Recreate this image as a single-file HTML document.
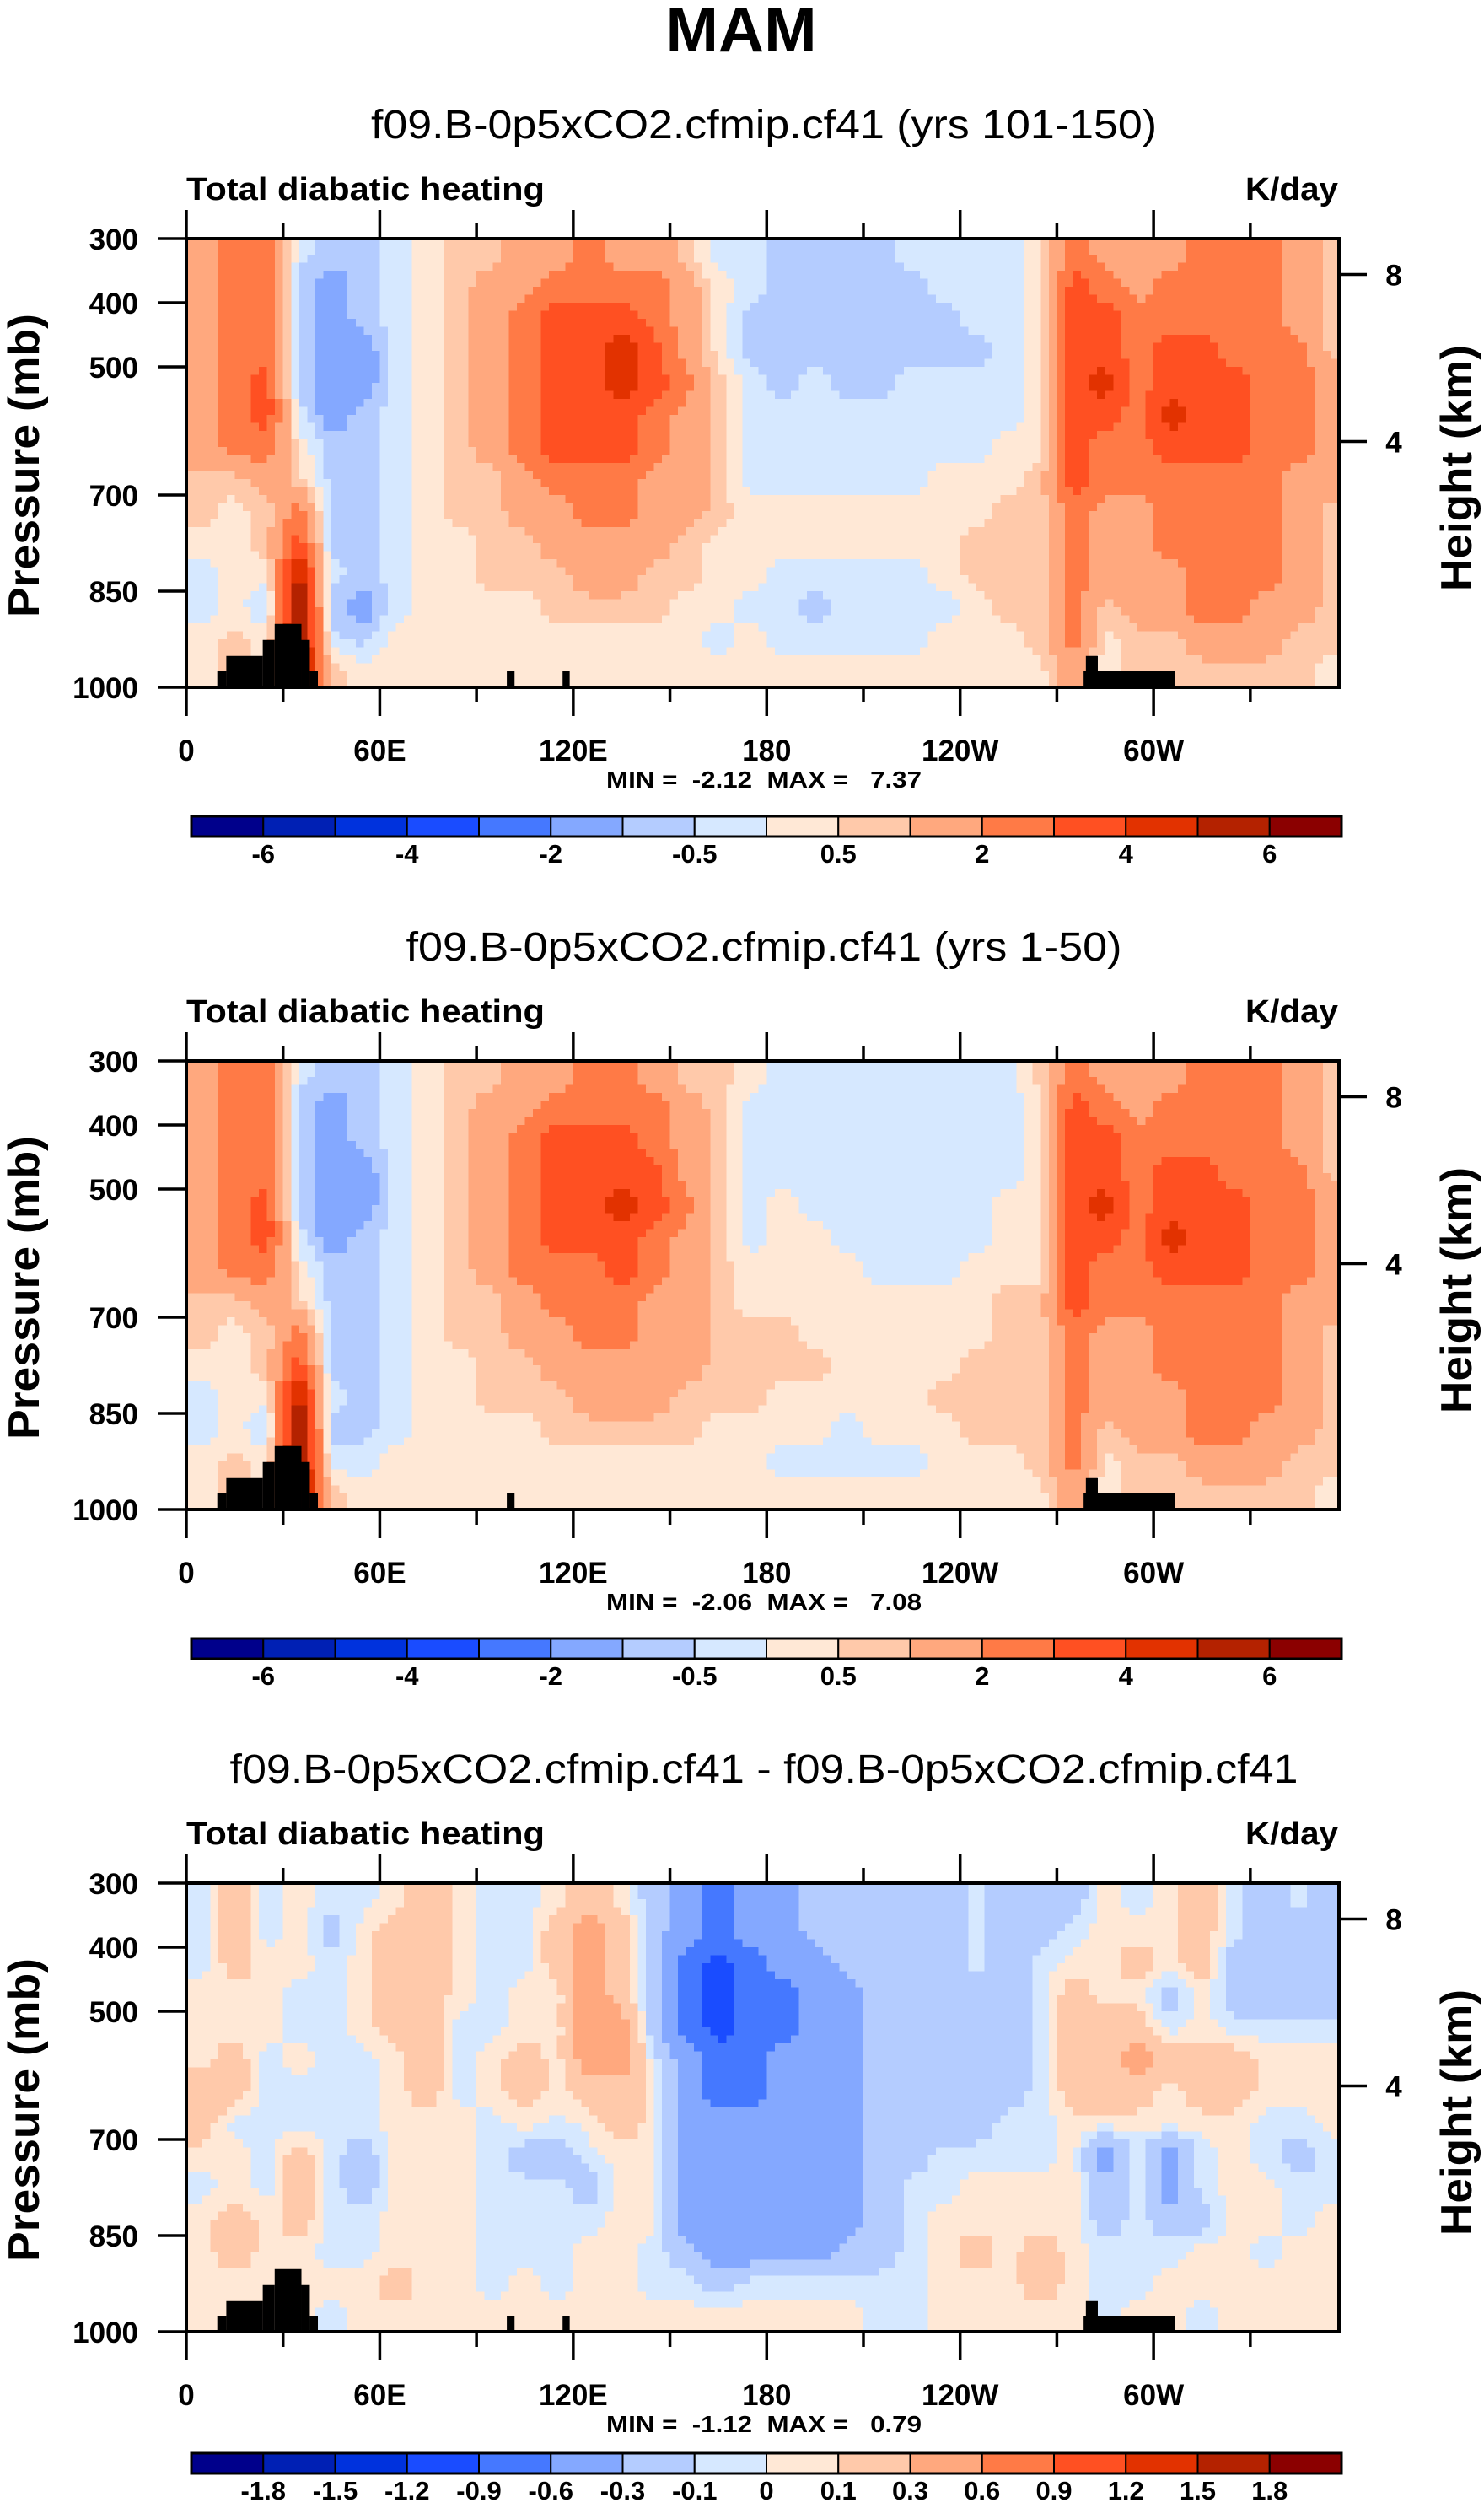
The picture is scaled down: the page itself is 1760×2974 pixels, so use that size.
<!DOCTYPE html>
<html><head><meta charset="utf-8">
<style>
html,body{margin:0;padding:0;background:#fff;}
svg{display:block;font-family:"Liberation Sans",Arial,sans-serif;}
.b{font-weight:bold;}
</style></head>
<body>
<svg id="fig" width="1760" height="2974" viewBox="0 0 1760 2974" xmlns="http://www.w3.org/2000/svg">
<rect x="0" y="0" width="1760" height="2974" fill="#fff"/>
<text x="879" y="61" text-anchor="middle" class="b" font-size="75">MAM</text>
</svg>
<script>
// ---------------- DATA ----------------
const lonCenters = [5,15,25,35,45,55,65,75,85,95,105,115,125,135,145,155,165,175,185,195,205,215,225,235,245,255,265,275,285,295,305,315,325,335,345,355];
const presCenters = [325,375,425,475,525,575,625,675,725,775,825,875,925,975];
const xTickLabels = ["0","60E","120E","180","120W","60W"];
const xTickLons = [0,60,120,180,240,300];
const pTicks = [300,400,500,700,850,1000];
const hTicks = [4,8];
const levelsAbs = [-6,-5,-4,-3,-2,-1,-0.5,0,0.5,1,2,3,4,5,6];
const levelsAbsLabels = ["","-6","","-4","","-2","","-0.5","","0.5","","2","","4","","6",""];
const levelsDiff = [-1.8,-1.5,-1.2,-0.9,-0.6,-0.3,-0.1,0,0.1,0.3,0.6,0.9,1.2,1.5,1.8];
const palette = ["#00008B","#0020B4","#0032DD","#1A4CFF","#4578FF","#84A8FF","#B4CCFF","#D6E8FF","#FFE8D6","#FFC9AA","#FFA87E","#FF7A46","#FF5022","#E23200","#B42200","#8B0000"];
const titles = ["f09.B-0p5xCO2.cfmip.cf41 (yrs 101-150)","f09.B-0p5xCO2.cfmip.cf41 (yrs 1-50)","f09.B-0p5xCO2.cfmip.cf41 - f09.B-0p5xCO2.cfmip.cf41"];
const titleWidths = [932, 849, 1267];
const minVals = [-2.12,-2.06,-1.12];
const maxVals = [7.37,7.08,0.79];
// terrain blocks: [lonStart, lonEnd, topPressure]
const terrain1 = [[9.6,12.4,975],[12.4,23.7,951],[23.7,27.4,926],[27.4,35.7,901],[35.7,38.3,926],[38.3,40.8,975],[99.4,101.8,975],[116.7,118.9,975],[278.3,306.7,975],[279,282.7,951]];
const terrain2 = [[9.6,12.4,975],[12.4,23.7,951],[23.7,27.4,926],[27.4,35.7,901],[35.7,38.3,926],[38.3,40.8,975],[99.4,101.8,975],[278.3,306.7,975],[279,282.7,951]];

const field1 = [
[1.5,1.5,1.5,1.5,1.5,1.5,1.5,0.7,0.7,0.3,-0.3,-0.3,0.3,0.3],
[2.5,2.5,2.5,2.5,2.5,2.5,2.5,0.7,0.3,0.3,0.3,0.3,0.7,0.7],
[2.5,2.5,2.5,2.5,3.5,3.5,2.5,1.5,0.7,0.7,0.3,-0.7,0.3,0.3],
[-0.3,-0.7,-0.7,-0.7,-0.7,-0.3,0.3,0.7,2.5,3.5,5.5,6.5,6.5,6.5],
[-0.7,-1.5,-1.5,-1.5,-1.5,-1.5,-0.7,-0.7,-0.7,-0.7,-0.3,-0.7,-0.3,0.7],
[-0.7,-0.7,-0.7,-1.5,-1.5,-0.7,-0.7,-0.7,-0.7,-0.7,-0.7,-1.5,-0.7,0.3],
[-0.3,-0.3,-0.3,-0.3,-0.3,-0.3,-0.3,-0.3,-0.3,-0.3,-0.3,-0.3,0.3,0.3],
[0.3,0.3,0.3,0.3,0.3,0.3,0.3,0.3,0.3,0.3,0.3,0.3,0.3,0.3],
[0.7,0.7,0.7,0.7,0.7,0.7,0.7,0.7,0.7,0.3,0.3,0.3,0.3,0.3],
[0.7,1.5,1.5,1.5,1.5,1.5,1.5,0.7,0.7,0.7,0.7,0.3,0.3,0.3],
[1.5,1.5,2.5,2.5,2.5,2.5,2.5,1.5,1.5,0.7,0.7,0.3,0.3,0.3],
[1.5,2.5,3.5,3.5,3.5,3.5,3.5,2.5,1.5,1.5,0.7,0.7,0.3,0.3],
[2.5,2.5,3.5,3.5,3.5,3.5,3.5,2.5,2.5,1.5,1.5,0.7,0.3,0.3],
[1.5,2.5,3.5,4.5,4.5,3.5,3.5,2.5,2.5,1.5,1.5,0.7,0.3,0.3],
[1.5,2.5,2.5,3.5,3.5,2.5,2.5,1.5,1.5,1.5,0.7,0.7,0.3,0.3],
[0.7,1.5,1.5,1.5,2.5,1.5,1.5,1.5,1.5,0.7,0.7,0.3,0.3,0.3],
[-0.3,0.3,0.3,0.3,0.7,0.7,0.7,0.7,0.7,0.3,0.3,0.3,-0.3,0.3],
[-0.3,-0.3,-0.7,-0.7,-0.3,-0.3,-0.3,-0.3,0.3,0.3,0.3,-0.3,0.3,0.3],
[-0.7,-0.7,-0.7,-0.7,-0.7,-0.3,-0.3,-0.3,0.3,0.3,-0.3,-0.3,-0.3,0.3],
[-0.7,-0.7,-0.7,-0.7,-0.3,-0.3,-0.3,-0.3,0.3,0.3,-0.3,-0.7,-0.3,0.3],
[-0.7,-0.7,-0.7,-0.7,-0.7,-0.3,-0.3,-0.3,0.3,0.3,-0.3,-0.3,-0.3,0.3],
[-0.7,-0.7,-0.7,-0.7,-0.7,-0.3,-0.3,-0.3,0.3,0.3,-0.3,-0.3,-0.3,0.3],
[-0.3,-0.7,-0.7,-0.7,-0.3,-0.3,-0.3,-0.3,0.3,0.3,-0.3,-0.3,-0.3,0.3],
[-0.3,-0.3,-0.7,-0.7,-0.3,-0.3,-0.3,0.3,0.3,0.3,0.3,-0.3,0.3,0.3],
[-0.3,-0.3,-0.3,-0.7,-0.3,-0.3,-0.3,0.3,0.3,0.7,0.7,0.3,0.3,0.3],
[-0.3,-0.3,-0.3,-0.3,-0.3,-0.3,0.3,0.3,0.7,0.7,0.7,0.7,0.3,0.3],
[0.3,0.3,0.3,0.3,0.3,0.3,0.3,0.7,0.7,0.7,0.7,0.7,0.7,0.3],
[2.5,3.5,3.5,3.5,3.5,3.5,3.5,3.5,2.5,2.5,2.5,2.5,2.5,1.5],
[1.5,2.5,3.5,3.5,4.5,3.5,2.5,2.5,1.5,1.5,1.5,0.7,0.3,0.3],
[1.5,1.5,2.5,2.5,2.5,2.5,2.5,2.5,1.5,1.5,1.5,1.5,0.7,0.7],
[1.5,2.5,2.5,3.5,3.5,4.5,3.5,2.5,2.5,2.5,1.5,1.5,0.7,0.7],
[2.5,2.5,2.5,3.5,3.5,3.5,3.5,2.5,2.5,2.5,2.5,2.5,1.5,0.7],
[2.5,2.5,2.5,2.5,3.5,3.5,3.5,2.5,2.5,2.5,2.5,2.5,1.5,0.7],
[2.5,2.5,2.5,2.5,2.5,2.5,2.5,2.5,2.5,2.5,2.5,1.5,1.5,0.7],
[1.5,1.5,1.5,2.5,2.5,2.5,2.5,1.5,1.5,1.5,1.5,1.5,0.7,0.7],
[0.7,0.7,0.7,0.7,1.5,1.5,1.5,1.5,0.7,0.7,0.7,0.7,0.7,0.3]
];
const field2 = [
[1.5,1.5,1.5,1.5,1.5,1.5,1.5,0.7,0.7,0.3,-0.3,-0.3,0.3,0.3],
[2.5,2.5,2.5,2.5,2.5,2.5,2.5,0.7,0.3,0.3,0.3,0.3,0.7,0.7],
[2.5,2.5,2.5,2.5,3.5,3.5,2.5,1.5,0.7,0.7,0.3,-0.7,0.3,0.3],
[-0.3,-0.7,-0.7,-0.7,-0.7,-0.3,0.3,0.7,2.5,3.5,5.5,6.5,6.5,6.5],
[-0.7,-1.5,-1.5,-1.5,-1.5,-1.5,-0.7,-0.7,-0.7,-0.7,-0.3,-0.7,-0.3,0.7],
[-0.7,-0.7,-0.7,-1.5,-1.5,-0.7,-0.7,-0.7,-0.7,-0.7,-0.7,-0.7,-0.3,0.3],
[-0.3,-0.3,-0.3,-0.3,-0.3,-0.3,-0.3,-0.3,-0.3,-0.3,-0.3,-0.3,0.3,0.3],
[0.3,0.3,0.3,0.3,0.3,0.3,0.3,0.3,0.3,0.3,0.3,0.3,0.3,0.3],
[0.7,0.7,0.7,0.7,0.7,0.7,0.7,0.7,0.7,0.3,0.3,0.3,0.3,0.3],
[0.7,1.5,1.5,1.5,1.5,1.5,1.5,0.7,0.7,0.7,0.7,0.3,0.3,0.3],
[1.5,1.5,2.5,2.5,2.5,2.5,2.5,1.5,1.5,0.7,0.7,0.3,0.3,0.3],
[1.5,2.5,3.5,3.5,3.5,3.5,2.5,2.5,1.5,1.5,0.7,0.7,0.3,0.3],
[2.5,2.5,3.5,3.5,3.5,3.5,2.5,2.5,2.5,1.5,1.5,0.7,0.3,0.3],
[2.5,2.5,3.5,3.5,4.5,3.5,3.5,2.5,2.5,1.5,1.5,0.7,0.3,0.3],
[1.5,2.5,2.5,3.5,3.5,2.5,2.5,1.5,1.5,1.5,1.5,0.7,0.3,0.3],
[0.7,1.5,1.5,1.5,2.5,1.5,1.5,1.5,1.5,1.5,0.7,0.7,0.3,0.3],
[0.7,0.7,0.7,0.7,0.7,0.7,0.7,0.7,0.7,0.7,0.7,0.3,0.3,0.3],
[0.3,-0.3,-0.3,-0.3,-0.3,-0.3,0.3,0.3,0.7,0.7,0.7,0.3,0.3,0.3],
[-0.3,-0.3,-0.3,-0.3,0.3,0.3,0.3,0.3,0.7,0.7,0.3,0.3,-0.3,0.3],
[-0.3,-0.3,-0.3,-0.3,-0.3,0.3,0.3,0.3,0.3,0.7,0.3,0.3,-0.3,0.3],
[-0.3,-0.3,-0.3,-0.3,-0.3,-0.3,0.3,0.3,0.3,0.3,0.3,-0.3,-0.3,0.3],
[-0.3,-0.3,-0.3,-0.3,-0.3,-0.3,-0.3,0.3,0.3,0.3,0.3,0.3,-0.3,0.3],
[-0.3,-0.3,-0.3,-0.3,-0.3,-0.3,-0.3,0.3,0.3,0.3,0.3,0.3,-0.3,0.3],
[-0.3,-0.3,-0.3,-0.3,-0.3,-0.3,-0.3,0.3,0.3,0.3,0.7,0.3,0.3,0.3],
[-0.3,-0.3,-0.3,-0.3,-0.3,-0.3,0.3,0.3,0.3,0.7,0.7,0.7,0.3,0.3],
[-0.3,-0.3,-0.3,-0.3,0.3,0.3,0.3,0.7,0.7,0.7,0.7,0.7,0.3,0.3],
[0.7,0.3,0.3,0.3,0.3,0.3,0.3,0.7,0.7,0.7,0.7,0.7,0.7,0.3],
[2.5,3.5,3.5,3.5,3.5,3.5,3.5,3.5,2.5,2.5,2.5,2.5,2.5,1.5],
[1.5,2.5,3.5,3.5,4.5,3.5,2.5,2.5,1.5,1.5,1.5,0.7,0.3,0.3],
[1.5,1.5,2.5,2.5,2.5,2.5,2.5,2.5,1.5,1.5,1.5,1.5,0.7,0.7],
[1.5,2.5,2.5,3.5,3.5,4.5,3.5,2.5,2.5,2.5,1.5,1.5,0.7,0.7],
[2.5,2.5,2.5,3.5,3.5,3.5,3.5,2.5,2.5,2.5,2.5,2.5,1.5,0.7],
[2.5,2.5,2.5,2.5,3.5,3.5,3.5,2.5,2.5,2.5,2.5,2.5,1.5,0.7],
[2.5,2.5,2.5,2.5,2.5,2.5,2.5,2.5,2.5,2.5,2.5,1.5,1.5,0.7],
[1.5,1.5,1.5,2.5,2.5,2.5,2.5,1.5,1.5,1.5,1.5,1.5,0.7,0.7],
[0.7,0.7,0.7,0.7,1.5,1.5,1.5,1.5,0.7,0.7,0.7,0.7,0.7,0.3]
];
const field3 = [
[-0.05,-0.05,-0.05,0.05,0.05,0.05,0.2,0.2,0.05,-0.05,0.05,0.05,0.05,0.05],
[0.2,0.2,0.2,0.05,0.05,0.2,0.2,-0.05,0.05,0.05,0.2,0.2,0.05,0.05],
[-0.05,-0.05,0.05,0.05,0.05,-0.05,-0.05,-0.05,-0.05,-0.05,0.05,0.05,0.05,0.05],
[0.05,0.05,0.05,-0.05,-0.05,0.05,-0.05,-0.05,0.2,0.2,0.2,0.05,0.05,0.05],
[-0.05,-0.2,-0.05,-0.05,-0.05,-0.05,-0.05,-0.05,-0.05,-0.05,-0.05,-0.05,0.05,-0.05],
[-0.05,0.05,0.05,0.05,0.05,-0.05,-0.05,-0.05,-0.2,-0.2,-0.05,-0.05,0.05,0.05],
[0.05,0.2,0.2,0.2,0.2,0.05,0.05,0.05,0.05,0.05,0.05,0.05,0.2,0.05],
[0.2,0.2,0.2,0.2,0.2,0.2,0.2,0.05,0.05,0.05,0.05,0.05,0.05,0.05],
[0.05,0.05,0.05,0.05,-0.05,-0.05,-0.05,0.05,0.05,0.05,0.05,0.05,0.05,0.05],
[-0.05,-0.05,-0.05,-0.05,-0.05,0.05,0.05,-0.05,-0.05,-0.05,-0.05,-0.05,-0.05,0.05],
[-0.05,-0.05,-0.05,0.05,0.05,0.2,0.2,0.05,-0.2,-0.05,-0.05,-0.05,0.05,0.05],
[0.05,0.2,0.2,0.05,0.05,0.05,0.05,-0.05,-0.2,-0.05,-0.05,-0.05,-0.05,0.05],
[0.2,0.45,0.45,0.45,0.45,0.45,0.2,0.05,-0.05,-0.2,-0.05,0.05,0.05,0.05],
[0.05,0.2,0.2,0.2,0.45,0.45,0.2,0.2,0.05,0.05,0.05,0.05,0.05,0.05],
[-0.2,-0.2,-0.2,-0.2,-0.2,-0.05,0.05,0.05,0.05,0.05,0.05,-0.05,-0.05,0.05],
[-0.45,-0.45,-0.75,-0.75,-0.75,-0.45,-0.45,-0.45,-0.45,-0.45,-0.45,-0.2,-0.05,0.05],
[-0.75,-0.75,-1.05,-1.05,-1.05,-0.75,-0.75,-0.45,-0.45,-0.45,-0.45,-0.45,-0.2,0.05],
[-0.45,-0.45,-0.75,-0.75,-0.75,-0.75,-0.75,-0.45,-0.45,-0.45,-0.45,-0.45,-0.05,0.05],
[-0.45,-0.45,-0.45,-0.75,-0.75,-0.45,-0.45,-0.45,-0.45,-0.45,-0.45,-0.45,-0.05,0.05],
[-0.2,-0.2,-0.45,-0.45,-0.45,-0.45,-0.45,-0.45,-0.45,-0.45,-0.45,-0.45,-0.05,0.05],
[-0.2,-0.2,-0.2,-0.45,-0.45,-0.45,-0.45,-0.45,-0.45,-0.45,-0.45,-0.2,-0.05,0.05],
[-0.2,-0.2,-0.2,-0.2,-0.2,-0.2,-0.2,-0.2,-0.2,-0.2,-0.2,-0.2,-0.05,-0.05],
[-0.2,-0.2,-0.2,-0.2,-0.2,-0.2,-0.2,-0.2,-0.2,-0.05,-0.05,-0.05,-0.05,-0.05],
[-0.2,-0.2,-0.2,-0.2,-0.2,-0.2,-0.2,-0.2,-0.05,-0.05,0.05,0.05,0.05,0.05],
[-0.05,-0.05,-0.05,-0.2,-0.2,-0.2,-0.2,-0.2,-0.05,0.05,0.05,0.2,0.05,0.05],
[-0.2,-0.2,-0.2,-0.2,-0.2,-0.2,-0.2,-0.05,-0.05,0.05,0.05,0.05,0.05,0.05],
[-0.2,-0.2,-0.05,-0.05,-0.05,-0.05,-0.05,-0.05,-0.05,0.05,0.05,0.2,0.2,0.05],
[-0.2,-0.05,0.05,0.2,0.2,0.2,0.2,0.05,0.05,0.05,0.05,0.05,0.05,0.05],
[0.05,0.05,0.05,0.05,0.2,0.2,0.2,0.05,-0.45,-0.2,-0.2,-0.05,-0.05,-0.05],
[-0.05,0.05,0.2,0.05,0.2,0.45,0.2,0.05,-0.05,-0.05,-0.05,-0.05,-0.05,0.05],
[0.05,0.05,0.05,-0.2,-0.05,0.2,0.05,0.05,-0.45,-0.45,-0.2,-0.05,0.05,0.05],
[0.2,0.2,0.2,0.05,0.05,0.2,0.2,0.05,-0.05,-0.05,-0.2,0.05,0.05,-0.05],
[-0.05,-0.05,-0.2,-0.2,-0.05,0.2,0.2,0.05,0.05,0.05,0.05,0.05,0.05,0.05],
[-0.2,-0.2,-0.2,-0.2,-0.05,0.05,0.05,-0.05,-0.05,0.05,0.05,-0.05,0.05,0.05],
[-0.05,-0.2,-0.2,-0.2,-0.05,0.05,0.05,-0.05,-0.2,-0.05,-0.05,0.05,0.05,0.05],
[-0.2,-0.2,-0.2,-0.2,-0.05,0.05,0.05,0.05,-0.05,-0.05,0.05,0.05,0.05,0.05]
];

// ---------------- DRAWING ----------------
const NS = "http://www.w3.org/2000/svg";
const svg = document.getElementById("fig");
const L = 221, R = 1588, LON_MAX = 357.5;
function mk(tag, attrs, parent, txt) {
  const e = document.createElementNS(NS, tag);
  for (const k in attrs) e.setAttribute(k, attrs[k]);
  if (txt !== undefined) e.textContent = txt;
  (parent || svg).appendChild(e);
  return e;
}
function xOf(lon) { return L + lon * (R - L) / LON_MAX; }
function colorIdx(v, levels) { let i = 0; while (i < levels.length && v >= levels[i]) i++; return i; }
function sample(field, lon, p) {
  let fi = (lon - lonCenters[0]) / 10, fj = (p - presCenters[0]) / 50;
  fi = Math.max(0, Math.min(lonCenters.length - 1, fi));
  fj = Math.max(0, Math.min(presCenters.length - 1, fj));
  const i0 = Math.floor(fi), j0 = Math.floor(fj);
  const i1 = Math.min(i0 + 1, lonCenters.length - 1), j1 = Math.min(j0 + 1, presCenters.length - 1);
  const a = fi - i0, b = fj - j0;
  return field[i0][j0] * (1 - a) * (1 - b) + field[i1][j0] * a * (1 - b) + field[i0][j1] * (1 - a) * b + field[i1][j1] * a * b;
}
function hToP(hkm) { return 1013.25 * Math.pow(1 - 2.25577e-5 * hkm * 1000, 5.25588); }

function drawPanel(k, field, levels, cbLabels, terrain, dy, cbY) {
  const T = 283 + dy, B = 815 + dy;
  const yOf = p => T + (p - 300) * (B - T) / 700;
  const g = mk("g", {}, svg);
  
  
  const t = mk("text", {x: 906, y: 164 + dy, "text-anchor": "middle", "font-size": 48, textLength: titleWidths[k], lengthAdjust: "spacingAndGlyphs"}, g, titles[k]);
  
  
  const lt = mk("text", {x: 221, y: 237 + dy, class: "b", "font-size": 38, textLength: 425, lengthAdjust: "spacingAndGlyphs"}, g, "Total diabatic heating");
  
  
  const rt = mk("text", {x: 1587, y: 237 + dy, "text-anchor": "end", class: "b", "font-size": 38, textLength: 110, lengthAdjust: "spacingAndGlyphs"}, g, "K/day");
  
  

  const fg = mk("g", {"shape-rendering": "crispEdges"}, g);
  
  
  const dl = 2.5, dp = 12.5;
  for (let p = 300; p < 1000; p += dp) {
    let runStart = 0, runIdx = -1;
    const y0 = yOf(p), y1 = yOf(p + dp);
    for (let lon = 0; lon <= LON_MAX; lon += dl) {
      const idx = lon < LON_MAX ? colorIdx(sample(field, lon + dl / 2, p + dp / 2), levels) : -2;
      if (idx !== runIdx) {
        if (runIdx >= 0) {
          const r = mk("rect", {x: xOf(runStart).toFixed(2), y: y0.toFixed(2), width: (xOf(lon) - xOf(runStart) + 0.6).toFixed(2), height: (y1 - y0 + 0.6).toFixed(2), fill: palette[runIdx]}, fg);
          
          
        }
        runStart = lon; runIdx = idx;
      }
    }
  }
  terrain.forEach(tb => {
    const r = mk("rect", {x: xOf(tb[0]), y: yOf(tb[2]), width: xOf(tb[1]) - xOf(tb[0]), height: B - yOf(tb[2]), fill: "#000"}, g);
    
    
  });
  const fr = mk("rect", {x: L, y: T, width: R - L, height: B - T, fill: "none", stroke: "#000", "stroke-width": 4}, g);
  
  
  for (let lon = 0; lon <= 330; lon += 30) {
    const major = lon % 60 === 0, x = xOf(lon);
    mk("line", {x1: x, x2: x, y1: T, y2: T - (major ? 34 : 18), stroke: "#000", "stroke-width": 3.5}, g);
    mk("line", {x1: x, x2: x, y1: B, y2: B + (major ? 34 : 18), stroke: "#000", "stroke-width": 3.5}, g);
  }
  xTickLons.forEach((lon, i) => {
    const tx = mk("text", {x: xOf(lon), y: 902 + dy, "text-anchor": "middle", class: "b", "font-size": 35}, g, xTickLabels[i]);
    
    
  });
  pTicks.forEach(p => {
    const y = yOf(p);
    mk("line", {x1: L, x2: 187, y1: y, y2: y, stroke: "#000", "stroke-width": 3.5}, g);
    const tx = mk("text", {x: 164, y: y + 13, "text-anchor": "end", class: "b", "font-size": 35}, g, String(p));
    
    
  });
  hTicks.forEach(h => {
    const y = yOf(hToP(h));
    mk("line", {x1: R, x2: 1621, y1: y, y2: y, stroke: "#000", "stroke-width": 3.5}, g);
    const tx = mk("text", {x: 1653, y: y + 13, "text-anchor": "middle", class: "b", "font-size": 35}, g, String(h));
    
    
  });
  const yl = mk("text", {x: 0, y: 0, "text-anchor": "middle", class: "b", "font-size": 52, textLength: 360, lengthAdjust: "spacingAndGlyphs", transform: `translate(46,${552 + dy}) rotate(-90)`}, g, "Pressure (mb)");
  
  
  const hl = mk("text", {x: 0, y: 0, "text-anchor": "middle", class: "b", "font-size": 52, textLength: 292, lengthAdjust: "spacingAndGlyphs", transform: `translate(1745,${555 + dy}) rotate(-90)`}, g, "Height (km)");
  
  
  const mm = mk("text", {x: 906, y: 934 + dy, "text-anchor": "middle", class: "b", "font-size": 28, textLength: 374, lengthAdjust: "spacingAndGlyphs", style: "white-space:pre"}, g, "MIN =  " + minVals[k].toFixed(2) + "  MAX =   " + maxVals[k].toFixed(2));
  
  
  const cx0 = 227, cx1 = 1591, bw = (cx1 - cx0) / palette.length, ch = 24;
  palette.forEach((c, i) => {
    const r = mk("rect", {x: cx0 + i * bw, y: cbY, width: bw, height: ch, fill: c, stroke: "#000", "stroke-width": 2}, g);
    
    
  });
  mk("rect", {x: cx0, y: cbY, width: cx1 - cx0, height: ch, fill: "none", stroke: "#000", "stroke-width": 3}, g);
  cbLabels.forEach((lab, i) => {
    if (!lab) return;
    const tx = mk("text", {x: cx0 + i * bw, y: cbY + 55, "text-anchor": "middle", class: "b", "font-size": 31}, g, lab);
    
    
  });
}
const diffLabels = [""].concat(levelsDiff.map(v => String(v)));
drawPanel(0, field1, levelsAbs, levelsAbsLabels.slice(0, 16), terrain1, 0, 968);
drawPanel(1, field2, levelsAbs, levelsAbsLabels.slice(0, 16), terrain2, 975, 1943);
drawPanel(2, field3, levelsDiff, diffLabels, terrain1, 1950, 2909);
</script>
</body></html>
